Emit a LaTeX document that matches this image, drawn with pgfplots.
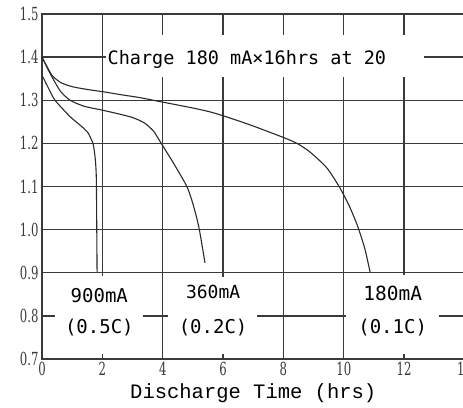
\documentclass[border=0pt]{standalone}
\usepackage{pgfplots}
\pgfplotsset{compat=1.18}
\usepackage{fontspec}
\setmainfont{Liberation Serif}
\newfontfamily\monoA{DejaVu Sans Mono}
\newfontfamily\courier{Liberation Mono}
\newfontfamily\tickf{DejaVu Serif Condensed}
\definecolor{gridc}{HTML}{3A3A3A}
\definecolor{curvec}{HTML}{2A2A2A}
\begin{document}
\begin{tikzpicture}
\begin{axis}[
  scale only axis, width=422.5pt, height=345pt,
  xmin=0, xmax=14, ymin=0.7, ymax=1.5,
  xtick={0,2,4,6,8,10,12,14},
  ytick={0.7,0.8,0.9,1.0,1.1,1.2,1.3,1.4,1.5},
  grid=major,
  major grid style={gridc, line width=1.3pt},
  axis line style={gridc, line width=1.6pt},
  tick style={gridc, line width=1.2pt},
  major tick length=5pt,
  xticklabel={\mbox{\tickf\fontsize{18}{18}\selectfont\scalebox{0.72}[1]{\pgfmathprintnumber{\tick}}}},
  yticklabel={\mbox{\tickf\fontsize{18}{18}\selectfont\scalebox{0.72}[1]{\pgfmathprintnumber[fixed,fixed zerofill,precision=1]{\tick}}}},
  tick label style={text=gridc},
  xlabel={Discharge Time (hrs)},
  xlabel style={font=\courier\fontsize{20.5}{20}\selectfont, text=black, yshift=-1pt},
  /pgf/number format/assume math mode=true,
]
% 180 mA (0.1C)
\addplot[curvec, line width=1.1pt, smooth, tension=0.4] coordinates {
(0,1.40) (0.33,1.358) (0.65,1.34) (1.03,1.331) (1.5,1.325) (2.0,1.32)
(2.6,1.313) (3.25,1.306) (3.9,1.297) (5,1.282) (5.57,1.273) (6,1.264) (6.89,1.243)
(7.95,1.215) (8.45,1.2) (8.88,1.18) (9.44,1.143) (9.87,1.097) (10.2,1.052)
(10.47,1.006) (10.7,0.955) (10.87,0.902)};
% 360 mA (0.2C)
\addplot[curvec, line width=1.1pt, smooth, tension=0.4] coordinates {
(0,1.40) (0.27,1.362) (0.6,1.322) (0.93,1.30) (1.4,1.286) (2.0,1.277) (2.5,1.269)
(3.0,1.26) (3.4,1.247) (3.7,1.228) (3.95,1.2) (4.35,1.155) (4.8,1.1) (5.0,1.06)
(5.2,1.005) (5.4,0.923)};
% 900 mA (0.5C)
\addplot[curvec, line width=1.1pt, smooth, tension=0.35] coordinates {
(0,1.358) (0.2,1.33) (0.43,1.30) (0.93,1.262) (1.3,1.240) (1.53,1.224) (1.7,1.197)
(1.77,1.16) (1.80,1.12) (1.815,1.0) (1.825,0.9)};
% white label boxes
\fill[white] (axis cs:2.13,1.354) rectangle (axis cs:12.66,1.452);
\node[anchor=west, inner sep=0pt, font=\monoA\fontsize{18.5}{18.5}\selectfont] at (axis cs:2.17,1.394) {Charge 180 mA×16hrs at 20};
\fill[white] (axis cs:0.43,0.712) rectangle (axis cs:3.36,0.893);
\fill[white] (axis cs:4.19,0.712) rectangle (axis cs:7.14,0.890);
\fill[white] (axis cs:10.07,0.712) rectangle (axis cs:13.16,0.895);
\node[inner sep=0pt, font=\monoA\fontsize{19}{19}\selectfont] at (axis cs:1.9,0.848) {900mA};
\node[inner sep=0pt, font=\monoA\fontsize{19}{19}\selectfont] at (axis cs:1.9,0.772) {(0.5C)};
\node[inner sep=0pt, font=\monoA\fontsize{18}{18}\selectfont] at (axis cs:5.67,0.856) {360mA};
\node[inner sep=0pt, font=\monoA\fontsize{19}{19}\selectfont] at (axis cs:5.67,0.774) {(0.2C)};
\node[inner sep=0pt, font=\monoA\fontsize{19.5}{19.5}\selectfont] at (axis cs:11.62,0.853) {180mA};
\node[inner sep=0pt, font=\monoA\fontsize{19}{19}\selectfont] at (axis cs:11.62,0.774) {(0.1C)};
\end{axis}
\pgfresetboundingbox
\path[use as bounding box] ([xshift=-42pt,yshift=-49pt]current axis.south west) rectangle ([xshift=-1.5pt,yshift=14pt]current axis.north east);
\end{tikzpicture}
\end{document}
